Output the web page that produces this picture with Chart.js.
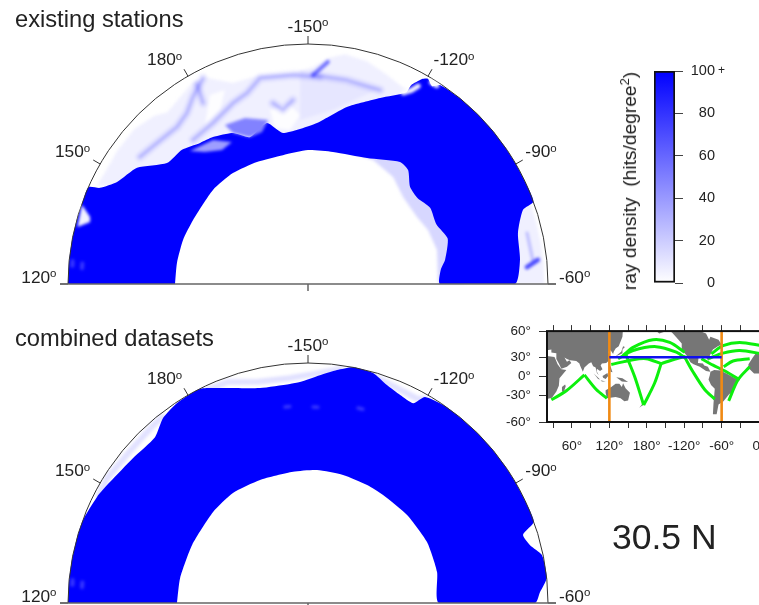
<!DOCTYPE html>
<html>
<head>
<meta charset="utf-8">
<title>ray density</title>
<script src="https://cdn.jsdelivr.net/npm/chart.js@4"></script>
<style>
    html, body { margin: 0; padding: 0; background: #fff; width: 759px; height: 605px; overflow: hidden; }
    body { position: relative; font-family: "Liberation Sans", Arial, sans-serif; color: #222; }
    canvas { position: absolute; }
    .soft { filter: blur(0.45px); }
    .haze { filter: blur(1.6px); }
    .txt { position: absolute; white-space: nowrap; }
    sup { font-size: 68%; line-height: 0; }
</style>
</head>
<body>
<canvas id="topUnder" class="haze" width="620" height="300" style="left:0;top:0"></canvas>
<canvas id="topPanel" class="soft" width="620" height="300" style="left:0;top:0"></canvas>
<canvas id="topOver" class="haze" width="620" height="300" style="left:0;top:0"></canvas>
<canvas id="bottomUnder" class="haze" width="620" height="300" style="left:0;top:319px"></canvas>
<canvas id="bottomPanel" class="soft" width="620" height="300" style="left:0;top:319px"></canvas>
<canvas id="bottomOver" class="haze" width="620" height="300" style="left:0;top:319px"></canvas>
<canvas id="colorBar" width="110" height="240" style="left:650px;top:60px"></canvas>
<canvas id="mapInset" class="soft" width="300" height="150" style="left:500px;top:315px"></canvas>
<div class="txt" style="left:15px;top:6px;font-size:23.7px">existing stations</div>
<div class="txt" style="left:15px;top:325px;font-size:23.7px">combined datasets</div>
<div class="txt" style="left:612px;top:517px;font-size:35.5px">30.5 N</div>
<div class="txt" style="left:630px;top:181px;font-size:19.2px;transform:translate(-50%,-50%) rotate(-90deg)">ray density&nbsp; (hits/degree<sup>2</sup>)</div>
<script>
//================================ Data =================================
// shapes are [longitude, radius] with longitude unwrapped (120..300) and radius as a fraction of the surface

const lonTicks = [120, 150, 180, 210, 240, 270, 300];
const lonTickLabels = ['120', '150', '180', '-150', '-120', '-90', '-60'];

const topDenseOuter = [[120, 1], [125, 1], [130, 1], [135, 1], [140, 1], [143.8, 1], [144.8, .955], [148.1, .902], [154.2, .861],
    [160.6, .774], [166.8, .767], [172.6, .74], [177.1, .729], [183.6, .702], [188.4, .658], [195.7, .692], [200.6, .638],
    [213.2, .672], [222.4, .755], [231.2, .831], [237.1, .896], [237.4, .932], [239.1, .977], [240.3, .99], [242.1, .973],
    [243.6, .995], [250, 1], [255, 1], [260, 1], [265, 1], [270, 1], [275, 1], [279.9, 1], [281, .947], [286.4, .9],
    [293.5, .889], [300, .8625]];
const topDenseInner = [[120, .554], [129.1, .553], [139.4, .552], [149.1, .548], [164.7, .557], [175.9, .558], [187.3, .551],
    [199, .547], [210, .558], [220.7, .56], [235.1, .58], [247, .637], [251.3, .632], [256.4, .587], [262, .58], [268, .6],
    [275, .59], [282, .612], [290, .58], [294, .556], [300, .55]];
const topHazeEnvelope = [[145.1, .97], [149.8, .965], [154.8, .97], [161.7, .97], [167.5, .95], [170.7, .925], [175.9, .945],
    [180.6, .97], [184, .955], [189.5, .894], [197.1, .893], [205.9, .881], [211.3, .904], [215.1, .945], [219.1, .97],
    [224.8, .96], [230, .935], [234.8, .913], [238, .905], [238, .8], [200, .6], [150, .8]];
const topHazeBroad = [[207.9, .892], [213.3, .864], [230.2, .87], [218.2, .732], [207.2, .684]];
const topHazeInner = [[227.8, .573], [237.7, .583], [248.5, .57], [257.5, .537], [268.4, .533], [275.8, .548], [285.2, .556],
    [299.7, .542], [299.7, .65], [260, .7], [227.8, .65]];
const topHazeRight = [[279.9, .985], [285, .985], [290, .985], [295, .985], [300, .985], [300, .85], [293, .87], [286, .89], [280, .94]];

const topStreaks = [
    [[183, .963], [178.4, .915], [174.7, .873], [170.2, .852], [163, .861], [157.1, .878]],
    [[180.9, .95], [179.9, .872]],
    [[213.3, .864], [205.9, .873], [196.9, .881], [192.3, .835], [187.5, .816], [179.5, .779], [171.4, .768]],
    [[211.4, .871], [220.8, .865], [230.4, .862]],
    [[199, .768], [201.8, .733], [205.3, .769]]
];
const topSpike = [[215.1, .929], [211.4, .871]];
const topMidPatch = [[182.4, .747], [189.2, .74], [196.3, .703], [193.2, .662], [188.4, .658], [183.6, .702]];
const topPaleGaps = [
    [[198, .664], [197.7, .742], [204.3, .75], [207.3, .705], [203.3, .646]],
    [[182.6, .887], [186.8, .879], [183.2, .812], [177, .789]]
];
const topPalePatch = [[168.4, .741], [176.6, .719], [181.8, .671], [177.3, .663], [172, .698]];
const topRimGap = [[139.3, .998], [137.1, .95], [135.9, .944], [133.9, .99]];
const topNotch = [[236.5, .89], [238.1, .915], [239.1, .944]];
const topNotchSpot = [[241.5, .985], [243, .985]];
const topRightStreak = [[295.6, .915], [294, .963]];
const topRightFaint = [[286.9, .937], [293.9, .942]];
const faintSpots = [[124.4, .986], [124, .944]];

const botDenseOuter = [[120, 1], [125, 1], [130, 1], [135, 1], [140, 1], [146.7, .984], [151.4, .967], [159.6, .947], [167.3, .94],
    [171.9, .979], [176.8, .996], [183.1, 1], [187.7, .968], [197.4, .918], [205.3, .916], [207.9, .921], [213, .95], [217.1, .978],
    [220.8, 1], [225.8, .996], [229.9, .966], [233.9, .948], [237.8, .941], [239.6, .987], [245, 1], [250, 1], [255, 1], [260, 1],
    [265, 1], [270, 1], [275, 1], [280.2, 1], [282.4, .94], [285.4, .956], [288.4, .995], [294, 1], [297.3, .968], [300, .946]];
const botDenseInner = [[120, .546], [131, .543], [146.6, .54], [163.8, .548], [175.7, .555], [188.7, .55], [203.5, .55], [213.9, .555],
    [225.3, .553], [236.6, .55], [244.8, .548], [258.4, .552], [272.9, .557], [286.5, .553], [300, .546]];
const botHazeEdges = [
    [[183, .985], [190, .98], [197.4, .945], [205.3, .94], [213, .96], [218, .985]],
    [[226, .985], [232, .97], [238, .965], [240, .98]],
    [[147, .98], [152, .985], [160, .975], [168, .98], [172, .985]]
];
const botFaintSpots = [[211.5, .817], [224.4, .839], [203.3, .822]];

// inset map, [longitude, latitude] with longitude unwrapped past 180
const mapLatTicks = [60, 30, 0, -30, -60];
const mapLatLabels = ['60°', '30°', '0°', '-30°', '-60°'];
const mapLonLabels = { 60: '60°', 120: '120°', 180: '180°', 240: '-120°', 300: '-60°', 360: '0°' };

const landShapes = [
    [[15, 64], [142, 64], [141, 55], [135, 45], [130, 42], [127, 38], [126, 35], [122, 40], [118, 38], [122, 31], [120, 26], [115, 22],
     [108, 21], [106, 18], [109, 12], [105, 9], [100, 13], [100, 8], [103, 2], [100, 6], [98, 15], [94, 17], [91, 23], [87, 21], [80, 15],
     [77.5, 8], [73, 18], [72, 21], [67, 25], [57, 26], [52, 28], [48, 30], [52, 24], [56, 26], [59, 22], [52, 16], [43, 13], [39, 21],
     [35, 28], [35, 36], [27, 37], [27, 41], [20, 40], [15, 45]],
    [[15, 33], [32, 31], [34, 27], [37, 20], [43, 12], [51, 11], [40, -3], [39, -15], [35, -24], [28, -33], [20, -35], [15, -30]],
    [[44, -17], [49, -13], [50, -16], [47, -25], [44, -24]],
    [[114, -22], [122, -18], [130, -12], [136, -12], [140, -17], [142, -11], [146, -19], [153, -26], [150, -37], [144, -38], [138, -34], [130, -32], [116, -34], [114, -26]],
    [[173, -41], [178, -38], [175, -42], [168, -46]],
    [[95, 5], [105, -5], [102, -4]],
    [[106, -6], [114, -8], [108, -8]],
    [[109, 1], [117, 6], [118, 1], [114, -4], [110, -2]],
    [[131, -1], [141, -3], [150, -9], [140, -8]],
    [[120, 18], [122, 16], [125, 7], [122, 8]],
    [[130, 32], [136, 34], [141, 36], [141, 41], [145, 44], [142, 45], [139, 38]],
    [[192, 64], [195, 60], [200, 58], [212, 60], [220, 59], [228, 54], [236, 48], [236, 40], [243, 34], [250, 23], [255, 20], [265, 16], [275, 9],
     [282, 8], [278, 16], [272, 18], [270, 21], [262, 22], [263, 30], [275, 30], [279, 25], [280, 31], [286, 41], [294, 45], [300, 47],
     [295, 52], [282, 55], [280, 52], [275, 58], [265, 60], [280, 64]],
    [[300, 64], [318, 60], [326, 64]],
    [[282, 8], [288, 11], [298, 10], [310, 4], [325, -5], [325, -7], [321, -15], [319, -23], [312, -28], [303, -38], [295, -42], [292, -53],
     [286, -53], [287, -40], [289, -20], [283, -14], [279, -5], [281, 2]],
    [[400, 32], [380, 37], [370, 37], [354, 35], [350, 30], [343, 20], [343, 14], [352, 5], [369, 5], [373, 0], [378, -17], [385, -35], [400, -33]]
];

const rayPaths = [
    [[27, -36], [51, -23], [80, 2.7]],
    [[80, 2.7], [99, -21], [116, -34]],
    [[123, 19.6], [158, 27], [179, 28.4], [203, 21]],
    [[203, 21], [192.6, -10.7], [175, -42.8]],
    [[175, -42.8], [160.5, 0], [146, 35.2]],
    [[142, 33], [158, 43.6], [190, 52], [216.7, 49.2], [240.7, 37.4]],
    [[134, 28.4], [158, 39.6], [195, 44.4], [227.4, 37.4], [243.4, 28.4]],
    [[240.7, 30.8], [254, 8], [272.8, -21], [289, -35]],
    [[203, 21], [227.4, 28.4], [242.4, 31.6]],
    [[283.5, 35.2], [302.2, 45.5], [329, 49.2], [365, 45.5]],
    [[278.2, 28.4], [302.2, 36.2], [329, 39.6], [365, 35.2]],
    [[267.5, 28.4], [286.2, 18.6], [307.6, 8], [329, -5.4]],
    [[303.3, 16], [318.3, 25], [345, 28.4]],
    [[311.3, -37.4], [326.3, -5.4], [345, 16]]
];
const sectionEnds = [120, 300];
const sectionLat = 30.5;

const colorBarTicks = [0, 20, 40, 60, 80, 100];

//================================ Helpers =================================

const UNIT = 240; // px per earth radius in the section panels

function polar(pairs) {
    return pairs.map(([lon, r]) => {
        const a = (300 - lon) * Math.PI / 180;
        return { x: r * Math.cos(a), y: r * Math.sin(a) };
    });
}

function area(pairs, color, tension) {
    return { data: polar(pairs), showLine: true, fill: 'shape', backgroundColor: color, borderWidth: 0, pointRadius: 0, tension: tension || 0 };
}

function stroke(pairs, color, width) {
    return { data: polar(pairs), showLine: true, fill: false, borderColor: color, borderWidth: width, borderCapStyle: 'round', borderJoinStyle: 'round', pointRadius: 0 };
}

// first dataset is painted on top in Chart.js, so hand out order by paint position
function paintOrder(list) {
    list.forEach((d, i) => { d.order = list.length - i; });
    return list;
}

const sectionFrame = {
    id: 'sectionFrame',
    afterDatasetsDraw(chart) {
        const { ctx, scales: { x, y } } = chart;
        const cx = x.getPixelForValue(0), cy = y.getPixelForValue(0);
        const R = x.getPixelForValue(1) - cx;
        const tick = 8 / UNIT;

        ctx.save();
        ctx.strokeStyle = '#333';
        ctx.lineWidth = 1;
        ctx.beginPath();
        ctx.arc(cx, cy, R, Math.PI, 2 * Math.PI);
        ctx.stroke();

        ctx.fillStyle = '#222';
        ctx.textBaseline = 'middle';
        lonTicks.forEach((lon, i) => {
            const a = (300 - lon) * Math.PI / 180;
            const x1 = x.getPixelForValue(Math.cos(a)), y1 = y.getPixelForValue(Math.sin(a));
            const x2 = x.getPixelForValue((1 + tick) * Math.cos(a)), y2 = y.getPixelForValue((1 + tick) * Math.sin(a));
            ctx.beginPath();
            ctx.moveTo(x1, y1);
            ctx.lineTo(x2, y2);
            ctx.stroke();

            const main = lonTickLabels[i];
            ctx.font = '17.3px "Liberation Sans"';
            const mw = ctx.measureText(main).width;
            ctx.font = '11.5px "Liberation Sans"';
            const ow = ctx.measureText('o').width;
            const side = Math.cos(a);
            let left;
            if (Math.abs(side) < 0.01) left = x2 - (mw + ow) / 2;
            else if (side < 0) left = x2 - mw - ow + 3.5 * side;
            else left = x2 + 3 * side;
            const mid = y2 - 6 - 3 * Math.sin(a);
            ctx.textAlign = 'left';
            ctx.font = '17.3px "Liberation Sans"';
            ctx.fillText(main, left, mid);
            ctx.font = '11.5px "Liberation Sans"';
            ctx.fillText('o', left + mw, mid - 4);
        });

        // baseline, with the short tick under the centre
        ctx.strokeStyle = '#666';
        ctx.lineWidth = 1.5;
        ctx.beginPath();
        ctx.moveTo(x.getPixelForValue(-1 - tick), cy);
        ctx.lineTo(x.getPixelForValue(1 + tick), cy);
        ctx.moveTo(cx, cy);
        ctx.lineTo(cx, cy + 7);
        ctx.stroke();
        ctx.restore();
    }
};

function sectionChart(id, datasets, withFrame) {
    const c = document.getElementById(id);
    const baseY = 284, cx = 308;
    return new Chart(c, {
        type: 'line',
        data: { datasets: paintOrder(datasets) },
        options: {
            responsive: false,
            animation: false,
            parsing: false,
            normalized: false,
            // chart area stops at the baseline so nothing spills under it
            layout: { padding: { bottom: c.height - baseY } },
            plugins: { legend: { display: false }, tooltip: { enabled: false } },
            scales: {
                x: { type: 'linear', display: false, min: -cx / UNIT, max: (c.width - cx) / UNIT },
                y: { type: 'linear', display: false, min: 0, max: baseY / UNIT }
            }
        },
        plugins: withFrame ? [sectionFrame] : []
    });
}

//================================ Section panels =================================

const HAZE = 'rgb(240,240,255)';
const BLUE = '#0000ff';

sectionChart('topUnder', [
    area(topHazeEnvelope, HAZE),
    area(topHazeBroad, 'rgb(230,230,255)'),
    area(topHazeInner, 'rgb(215,215,255)'),
    area(topHazeRight, HAZE),
    ...topPaleGaps.map(p => area(p, 'rgba(255,255,255,.85)')),
    ...topStreaks.map(p => stroke(p, 'rgba(130,130,255,.16)', 9)),
    ...topStreaks.map(p => stroke(p, 'rgba(90,90,255,.32)', 3)),
    stroke(topSpike, 'rgba(30,30,255,.6)', 4),
    stroke(topRightFaint, 'rgba(90,90,255,.35)', 3),
    stroke(topRightStreak, 'rgba(20,20,255,.75)', 4.5)
]);

sectionChart('topPanel', [
    area(topDenseOuter.concat(topDenseInner.slice().reverse()), BLUE, .2)
], true);

sectionChart('topOver', [
    area(topMidPatch, 'rgb(130,130,255)'),
    area(topPalePatch, 'rgba(225,225,255,.7)'),
    area(topRimGap, 'rgba(255,255,255,.95)'),
    stroke(topNotch, 'rgba(255,255,255,.95)', 5),
    stroke(topNotchSpot, 'rgba(255,255,255,.95)', 5),
    ...faintSpots.map(s => stroke([s, [s[0] + 1.2, s[1]]], 'rgba(255,255,255,.22)', 4))
]);

sectionChart('bottomUnder', botHazeEdges.map(p => stroke(p, 'rgba(205,205,255,.6)', 6)));

sectionChart('bottomPanel', [
    area(botDenseOuter.concat(botDenseInner.slice().reverse()), BLUE, .2)
], true);

sectionChart('bottomOver', [
    ...botFaintSpots.map(s => stroke([s, [s[0] + 1.4, s[1]]], 'rgba(200,200,255,.28)', 3.5)),
    ...faintSpots.map(s => stroke([s, [s[0] + 1.2, s[1]]], 'rgba(255,255,255,.22)', 4))
]);

//================================ Colour bar =================================

const barLabelPlus = {
    id: 'barLabelPlus',
    afterDraw(chart) {
        const { ctx, scales: { y } } = chart;
        ctx.save();
        ctx.fillStyle = '#222';
        ctx.font = '12px "Liberation Sans"';
        ctx.textBaseline = 'middle';
        ctx.fillText('+', y.right + 3, y.getPixelForValue(100));
        ctx.restore();
    }
};

new Chart(document.getElementById('colorBar'), {
    type: 'bar',
    data: {
        labels: ['ray density'],
        datasets: [{
            data: [[colorBarTicks[0], colorBarTicks[colorBarTicks.length - 1]]],
            barPercentage: 1,
            categoryPercentage: 1,
            borderColor: '#111',
            borderWidth: 2,
            borderSkipped: false,
            backgroundColor(ctx) {
                const a = ctx.chart.chartArea;
                if (!a) return BLUE;
                const g = ctx.chart.ctx.createLinearGradient(0, a.bottom, 0, a.top);
                g.addColorStop(0, '#ffffff');
                g.addColorStop(1, BLUE);
                return g;
            }
        }]
    },
    options: {
        responsive: false,
        animation: false,
        layout: { padding: { left: 4, top: 11, bottom: 17, right: 45 } },
        plugins: { legend: { display: false }, tooltip: { enabled: false } },
        scales: {
            x: { display: false },
            y: {
                position: 'right',
                min: 0,
                max: 100,
                afterFit(s) { s.width = 40; },
                afterBuildTicks(s) { s.ticks = colorBarTicks.map(v => ({ value: v })); },
                border: { display: false },
                grid: { drawOnChartArea: false, tickLength: 8, tickColor: '#444', tickWidth: 1 },
                ticks: { crossAlign: 'far', padding: 2, color: '#222', font: { family: 'Liberation Sans', size: 14.5 } }
            }
        }
    },
    plugins: [barLabelPlus]
});

//================================ Inset map =================================

function merc(lat) {
    return Math.log(Math.tan(Math.PI / 4 + lat * Math.PI / 360)) * 180 / Math.PI;
}

function mapPoints(pairs) {
    return pairs.map(([lon, lat]) => ({ x: lon, y: merc(lat) }));
}

const mapFrame = {
    id: 'mapFrame',
    afterDatasetsDraw(chart) {
        const { ctx, chartArea: a } = chart;
        ctx.save();
        ctx.strokeStyle = '#111';
        ctx.lineWidth = 2;
        ctx.strokeRect(a.left, a.top, a.right - a.left, a.bottom - a.top);
        ctx.restore();
    }
};

const mapLines = [
    ...landShapes.map(p => ({ data: mapPoints(p), showLine: true, fill: 'shape', backgroundColor: '#767676', borderWidth: 0, pointRadius: 0 })),
    ...rayPaths.map(p => ({ data: mapPoints(p), showLine: true, fill: false, borderColor: '#0cf00c', borderWidth: 3, tension: 0.3, pointRadius: 0 })),
    ...sectionEnds.map(lon => ({ data: mapPoints([[lon, 60], [lon, -60]]), showLine: true, fill: false, borderColor: '#f08a14', borderWidth: 2.6, pointRadius: 0 })),
    { data: mapPoints([[sectionEnds[0], sectionLat], [sectionEnds[1], sectionLat]]), showLine: true, fill: false, borderColor: '#1010f0', borderWidth: 2.6, pointRadius: 0 }
];

const mapLonAxis = {
    type: 'linear',
    min: 20,
    max: 400,
    border: { display: false },
    grid: { drawOnChartArea: false, tickLength: 6, tickColor: '#333' },
    ticks: { stepSize: 30, autoSkip: false, includeBounds: false, maxRotation: 0, padding: 10, color: '#222',
             font: { family: 'Liberation Sans', size: 13.5 }, callback: v => mapLonLabels[v] || '' }
};

new Chart(document.getElementById('mapInset'), {
    type: 'line',
    data: { datasets: paintOrder(mapLines) },
    options: {
        responsive: false,
        animation: false,
        parsing: false,
        layout: { padding: { top: 5, bottom: 8, left: 0, right: 16 } },
        plugins: { legend: { display: false }, tooltip: { enabled: false } },
        scales: {
            x: { ...mapLonAxis, position: 'bottom', afterFit(s) { s.height = 35; } },
            x2: { ...mapLonAxis, position: 'top', ticks: { ...mapLonAxis.ticks, display: false }, afterFit(s) { s.height = 8; } },
            y: {
                type: 'linear',
                min: merc(-60),
                max: merc(60),
                afterFit(s) { s.width = 47; },
                afterBuildTicks(s) { s.ticks = mapLatTicks.map(l => ({ value: merc(l) })); },
                border: { display: false },
                grid: { drawOnChartArea: false, tickLength: 8, tickColor: '#333' },
                ticks: { padding: 8, color: '#222', font: { family: 'Liberation Sans', size: 13.5 },
                         callback(v, i) { return mapLatLabels[i]; } }
            }
        }
    },
    plugins: [mapFrame]
});
</script>
</body>
</html>
